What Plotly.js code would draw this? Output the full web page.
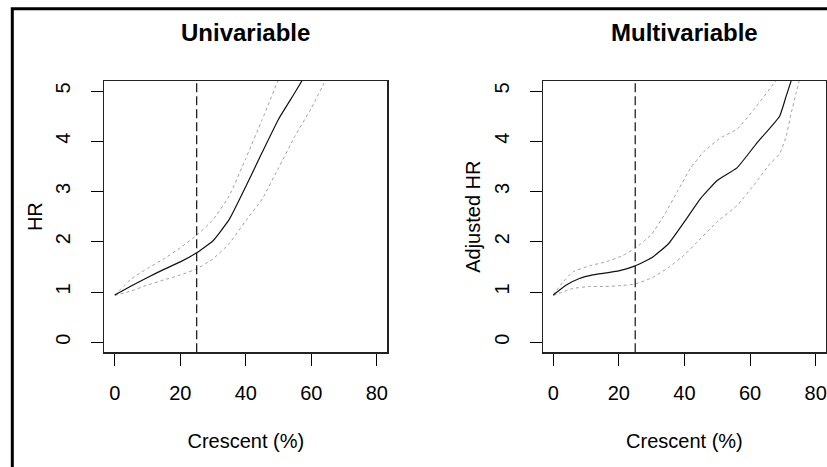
<!DOCTYPE html>
<html>
<head>
<meta charset="utf-8">
<script src="https://cdn.plot.ly/plotly-3.0.1.min.js"></script>
<style>html,body{margin:0;padding:0;background:#fff;}#chart{width:827px;height:467px;}</style>
</head>
<body>
<div id="chart"></div>
<script>
// Univariable panel
const uniEstX = [0, 5, 10, 15, 20, 25, 30, 35, 40, 45, 50, 55, 58];
const uniEstY = [0.94, 1.12, 1.29, 1.45, 1.60, 1.78, 2.02, 2.45, 3.10, 3.78, 4.44, 4.97, 5.30];
const uniUpX = [0, 5, 10, 15, 20, 25, 30, 35, 40, 45, 50, 51];
const uniUpY = [0.94, 1.26, 1.47, 1.66, 1.88, 2.13, 2.44, 2.92, 3.66, 4.43, 5.24, 5.40];
const uniLoX = [0, 5, 10, 15, 20, 25, 30, 35, 40, 45, 50, 55, 60, 65];
const uniLoY = [0.93, 1.02, 1.14, 1.24, 1.34, 1.46, 1.66, 1.97, 2.42, 2.85, 3.47, 4.10, 4.66, 5.30];

// Multivariable panel
const mulEstX = [0, 4, 8, 12, 16, 20, 25, 30, 35, 40, 45, 50, 56, 62, 69, 71, 73];
const mulEstY = [0.94, 1.14, 1.27, 1.34, 1.38, 1.42, 1.52, 1.68, 1.95, 2.40, 2.87, 3.22, 3.47, 3.96, 4.50, 4.90, 5.30];
const mulUpX = [0, 3, 6, 11, 16, 21, 25, 30, 34, 38, 42, 46, 51, 56, 61, 68, 69];
const mulUpY = [0.94, 1.20, 1.40, 1.52, 1.60, 1.72, 1.87, 2.15, 2.55, 3.02, 3.48, 3.80, 4.07, 4.24, 4.62, 5.22, 5.35];
const mulLoX = [0, 6, 11, 16, 21, 25, 30, 35, 40, 45, 50, 56, 62, 66, 69, 71, 72.5, 74, 75.5];
const mulLoY = [0.93, 1.07, 1.11, 1.11, 1.13, 1.16, 1.28, 1.48, 1.74, 2.07, 2.40, 2.72, 3.20, 3.55, 3.75, 4.10, 4.55, 4.95, 5.35];

const cutoff = 25;
const xTicks = [0, 20, 40, 60, 80];
const yTicks = [0, 1, 2, 3, 4, 5];
const panelTitles = ["Univariable", "Multivariable"];
const yTitles = ["HR", "Adjusted HR"];
const xTitle = "Crescent (%)";

const FONT = "Liberation Sans, Arial, Helvetica, sans-serif";
const W = 827, H = 467;

function estTrace(x, y, xa, ya) {
  return {x: x, y: y, xaxis: xa, yaxis: ya, mode: "lines", type: "scatter",
    line: {color: "#111", width: 1.2, shape: "spline", smoothing: 0.4}, hoverinfo: "skip", showlegend: false};
}
function ciTrace(x, y, xa, ya) {
  return {x: x, y: y, xaxis: xa, yaxis: ya, mode: "lines", type: "scatter",
    line: {color: "#a0a0a0", width: 1, dash: "dot", shape: "spline", smoothing: 0.4}, hoverinfo: "skip", showlegend: false};
}
function vTrace(xa, ya) {
  return {x: [cutoff, cutoff], y: [-0.2, 5.2], xaxis: xa, yaxis: ya, mode: "lines", type: "scatter",
    line: {color: "#222", width: 1.3, dash: "9px,4px"}, hoverinfo: "skip", showlegend: false};
}

const data = [
  ciTrace(uniUpX, uniUpY, "x", "y"),
  ciTrace(uniLoX, uniLoY, "x", "y"),
  estTrace(uniEstX, uniEstY, "x", "y"),
  vTrace("x", "y"),
  ciTrace(mulUpX, mulUpY, "x2", "y2"),
  ciTrace(mulLoX, mulLoY, "x2", "y2"),
  estTrace(mulEstX, mulEstY, "x2", "y2"),
  vTrace("x2", "y2")
];

const yDom = [1 - 352.3 / H, 1 - 81 / H];
const xDom1 = [104.3 / W, 387.3 / W];
const xDom2 = [542.7 / W, 826.2 / W];

function xAxis(dom, anchor) {
  return {domain: dom, anchor: anchor, range: [-3.2, 83.2], tickvals: xTicks, ticktext: xTicks.map(String),
    ticks: "outside", ticklen: 12, tickwidth: 1, tickcolor: "#000", ticklabelstandoff: 10,
    showline: true, mirror: true, linecolor: "#222", linewidth: 1.2,
    showgrid: false, zeroline: false, fixedrange: true,
    tickfont: {family: FONT, size: 20, color: "#000"},
    title: {text: xTitle, font: {family: FONT, size: 20, color: "#000"}, standoff: 31}};
}
function yAxis(anchor, title) {
  return {domain: yDom, anchor: anchor, range: [-0.2, 5.2], tickvals: yTicks, ticktext: yTicks.map(String),
    ticks: "outside", ticklen: 12, tickwidth: 1, tickcolor: "#000", tickangle: -90, ticklabelstandoff: 13,
    showline: true, mirror: true, linecolor: "#222", linewidth: 1.2,
    showgrid: false, zeroline: false, fixedrange: true,
    tickfont: {family: FONT, size: 20, color: "#000"},
    title: {text: title, font: {family: FONT, size: 20, color: "#000"}, standoff: 4}};
}

const layout = {
  width: W, height: H,
  margin: {l: 0, r: 0, t: 0, b: 0, pad: 0},
  paper_bgcolor: "#fff", plot_bgcolor: "#fff",
  showlegend: false,
  font: {family: FONT, color: "#000"},
  xaxis: xAxis(xDom1, "y"),
  yaxis: yAxis("x", yTitles[0]),
  xaxis2: xAxis(xDom2, "y2"),
  yaxis2: yAxis("x2", yTitles[1]),
  annotations: [
    {text: "<b>" + panelTitles[0] + "</b>", xref: "paper", yref: "paper", x: (xDom1[0] + xDom1[1]) / 2, y: 1 - 32.3 / H,
     xanchor: "center", yanchor: "middle", showarrow: false, font: {family: FONT, size: 24, color: "#000"}},
    {text: "<b>" + panelTitles[1] + "</b>", xref: "paper", yref: "paper", x: (xDom2[0] + xDom2[1]) / 2, y: 1 - 32.3 / H,
     xanchor: "center", yanchor: "middle", showarrow: false, font: {family: FONT, size: 24, color: "#000"}}
  ],
  shapes: [
    {type: "rect", xref: "paper", yref: "paper", x0: 12.3 / W, x1: 1.05, y0: -0.05, y1: 1 - 8.7 / H,
     line: {color: "#000", width: 3}, fillcolor: "rgba(0,0,0,0)", layer: "above"}
  ]
};

Plotly.newPlot("chart", data, layout, {displayModeBar: false, staticPlot: true});
</script>
</body>
</html>
